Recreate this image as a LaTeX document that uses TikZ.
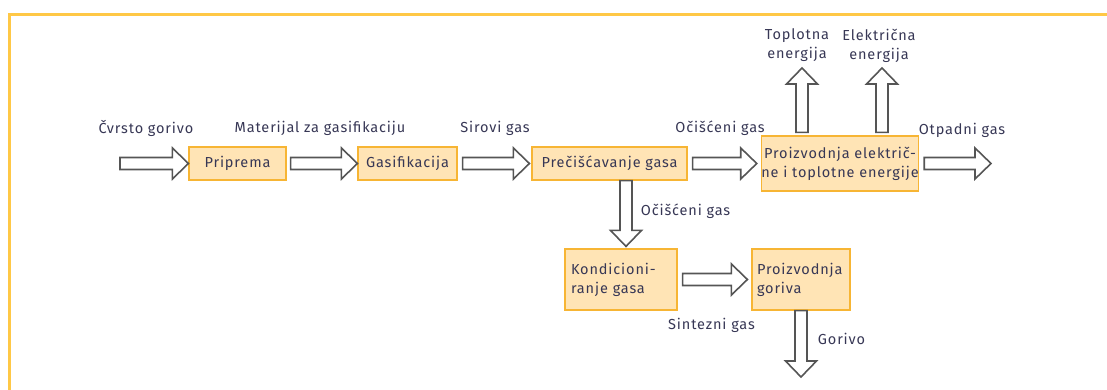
\documentclass[tikz,border=0pt]{standalone}
\usepackage{fontspec}
\setmainfont{Fira Sans}
\newfontfamily\lblfont{Fira Sans}[LetterSpace=6]
\usetikzlibrary{calc, positioning}

\definecolor{frameline}{RGB}{255,200,70}
\definecolor{boxline}{RGB}{247,181,52}
\definecolor{boxfill}{RGB}{255,228,181}
\definecolor{arrowgray}{RGB}{85,85,85}
\definecolor{lblcol}{RGB}{55,55,85}

% hollow block arrow between two points
\newcommand{\sw}{6pt}
\newcommand{\hw}{15.5pt}
\newcommand{\hl}{16pt}
\newcommand{\blkarrow}[2]{%
  \draw[flow] ($(#1)!\sw!90:(#2)$) -- ($(#2)!\hl!(#1)!\sw!90:(#2)$)
    -- ($(#2)!\hl!(#1)!\hw!90:(#2)$) -- (#2)
    -- ($(#2)!\hl!(#1)!\hw!-90:(#2)$) -- ($(#2)!\hl!(#1)!\sw!-90:(#2)$)
    -- ($(#1)!\sw!-90:(#2)$) -- cycle;}

\begin{document}
\begin{tikzpicture}[x=1pt, y=-1pt,
    box/.style={draw=boxline, fill=boxfill, line width=1.2pt, inner sep=0pt,
      minimum height=33pt, text=lblcol, font=\lblfont\fontsize{14.5}{19}\selectfont},
    flow/.style={draw=arrowgray, fill=white, line width=1.6pt, line join=miter},
    lbl/.style={text=lblcol, inner sep=0pt, font=\lblfont\fontsize{14.5}{19}\selectfont}]
    \useasboundingbox (0,0) rectangle (1107,390);

    % Frame
    \draw[frameline, line width=2.5pt] (1107,14.5) -- (9.5,14.5) -- (9.5,390);

    % Process boxes
    \node[box, minimum width=97pt] (pri) at (237.5,163.5) {Priprema};
    \node[box, minimum width=99pt] (gas) at (407.5,163.5) {Gasifikacija};
    \node[box, minimum width=155pt] (pre) at (609.5,163.5) {Prečišćavanje gasa};
    \node[box, minimum width=156pt, minimum height=55pt, align=center] (chp) at (840,163.5)
        {Proizvodnja električ-\\ne i toplotne energije};
    \node[box, minimum width=112pt, minimum height=61pt, text width=100pt, align=left] (kon) at (621,279.5)
        {Kondicioni-\\ranje gasa};
    \node[box, minimum width=98pt, minimum height=61pt, text width=88pt, align=left] (fuel) at (801,279.5)
        {Proizvodnja\\goriva};

    % Free ends
    \coordinate (feed) at (120,163.5);
    \coordinate (offgas) at (991,163.5);
    \coordinate (heat) at (802,68);
    \coordinate (power) at (882,68);
    \coordinate (fuelout) at (801,377);

    % Flows
    \blkarrow{feed}{pri.west}
    \blkarrow{[xshift=4pt]pri.east}{gas.west}
    \blkarrow{[xshift=5pt]gas.east}{[xshift=-2pt]pre.west}
    \blkarrow{[xshift=5pt]pre.east}{[xshift=-4pt]chp.west}
    \blkarrow{[xshift=5pt]chp.east}{offgas}
    \blkarrow{[xshift=-38pt,yshift=3pt]chp.north}{heat}
    \blkarrow{[xshift=42pt,yshift=3pt]chp.north}{power}
    \blkarrow{[xshift=16.5pt]pre.south}{[xshift=5pt,yshift=2pt]kon.north}
    \blkarrow{[xshift=5pt]kon.east}{[xshift=-4pt]fuel.west}
    \blkarrow{fuel.south}{fuelout}

    % Labels
    \node[lbl] (l1) at (146,128) {Čvrsto gorivo};
    \node[lbl] (l2) at (320,128) {Materijal za gasifikaciju};
    \node[lbl] (l3) at (495,128) {Sirovi gas};
    \node[lbl] (l4) at (720,128) {Očišćeni gas};
    \node[lbl, align=center] (l5) at (797,45.5) {Toplotna\\energija};
    \node[lbl, align=center] (l6) at (879,45.5) {Električna\\energija};
    \node[lbl] (l7) at (962,130) {Otpadni gas};
    \node[lbl] (l8) at (685.5,211) {Očišćeni gas};
    \node[lbl] (l9) at (711.5,325) {Sintezni gas};
    \node[lbl] (l10) at (841.5,339) {Gorivo};
\end{tikzpicture}
\end{document}
